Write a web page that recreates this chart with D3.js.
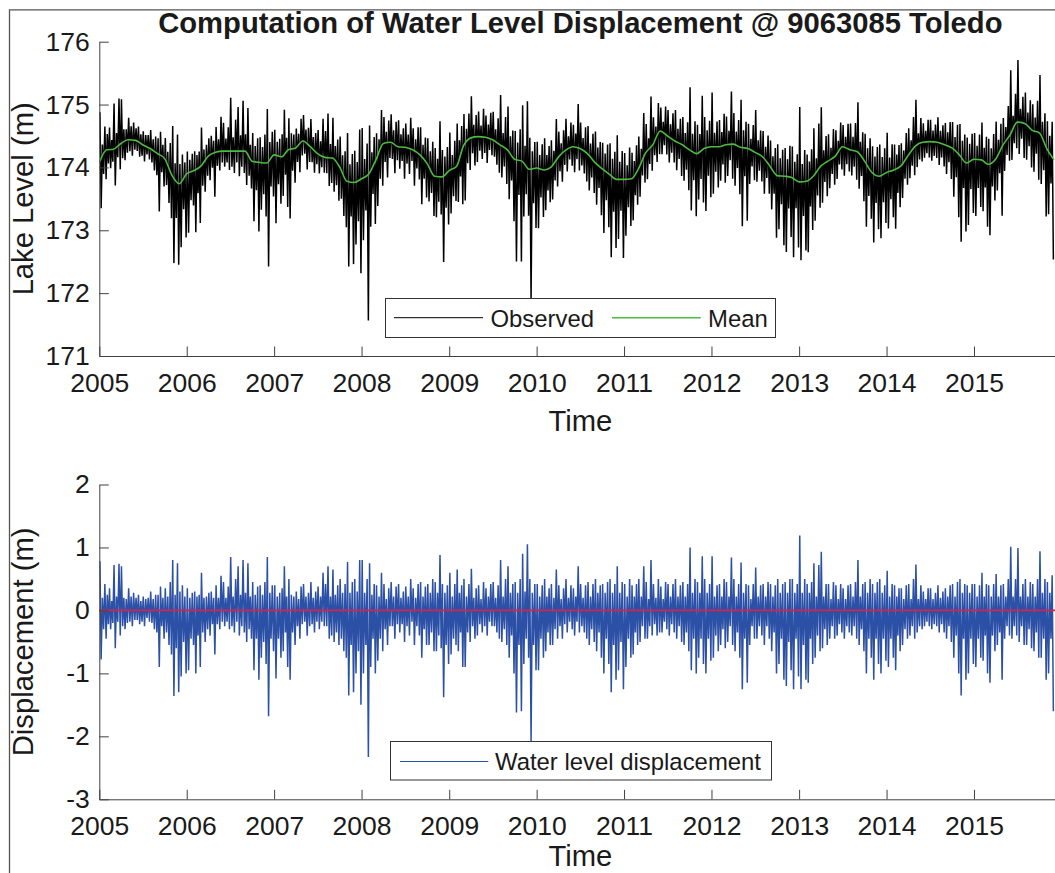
<!DOCTYPE html>
<html><head><meta charset="utf-8">
<script src="https://cdn.jsdelivr.net/npm/d3@7"></script>
<style>
body{margin:0;background:#fff;}
svg{display:block;}
text{font-family:"Liberation Sans",Arial,Helvetica,sans-serif;fill:#1a1a1a;}
</style>
</head><body>
<svg id="chart" width="1055" height="873"></svg>
<script>
// ---------------- DATA ----------------
const titleText = "Computation of Water Level Displacement @ 9063085 Toledo";
const yearTicks = [2005,2006,2007,2008,2009,2010,2011,2012,2013,2014,2015];
const levelTicks = [171,172,173,174,175,176];
const dispTicks = [-3,-2,-1,0,1,2];
const legendTop = ["Observed","Mean"];
const legendBottom = ["Water level displacement"];

// monthly mean lake level (m), value at the start of each month from Jan 2005
const meanLevel = [
 174.08,174.28,174.29,174.38,174.44,174.43,174.36,174.30,174.22,174.14,173.87,173.74,
 173.90,173.95,174.02,174.18,174.24,174.26,174.26,174.26,174.26,174.10,174.08,174.07,
 174.20,174.17,174.28,174.31,174.42,174.33,174.22,174.16,174.15,174.01,173.78,173.76,
 173.82,173.90,174.12,174.38,174.40,174.33,174.32,174.28,174.20,174.06,173.86,173.85,
 173.95,174.02,174.34,174.47,174.49,174.48,174.44,174.36,174.28,174.13,174.10,173.97,
 173.99,173.96,174.00,174.16,174.27,174.33,174.30,174.22,174.08,173.98,173.89,173.81,
 173.81,173.82,173.97,174.23,174.36,174.58,174.50,174.42,174.36,174.28,174.22,174.30,
 174.33,174.33,174.36,174.37,174.32,174.30,174.24,174.17,174.02,173.87,173.86,173.84,
 173.77,173.78,173.86,174.02,174.10,174.18,174.33,174.28,174.25,174.10,173.92,173.86,
 173.92,173.96,174.02,174.19,174.34,174.40,174.41,174.40,174.36,174.31,174.20,174.07,
 174.13,174.12,174.05,174.13,174.35,174.52,174.72,174.70,174.59,174.55,174.30,174.12];

// displacement (m), six readings per month
const disp2005 = [
 .78,-.78,.2,-.3,.42,-.45, .25,-.22,.35,-.3,.15,-.2, .72,-.6,.22,-.18,.74,-.4,
 .7,-.25,.2,-.3,.18,-.2, .35,-.18,.22,-.25,.28,-.15, .2,-.15,.25,-.22,.15,-.18,
 .22,-.25,.18,-.12,.2,-.18, .3,-.2,.18,-.3,.25,-.35, .25,-.9,.38,-.25,.2,-.45,
 .35,-.35,.22,-.55,.45,-.7, .8,-1.36,.25,-.6,.75,-1.3, .3,-1.05,.4,-.5,.22,-1.0];
const disp2006 = [
 .35,-.95,.2,-.45,.28,-.55, .3,-1.0,.22,-.4,.25,-.9, .6,-.35,.2,-.5,.22,-.3,
 .28,-.4,.3,-.22,.2,-.7, .4,-.22,.2,-.3,.55,-.18, .45,-.25,.2,-.18,.38,-.3,
 .85,-.25,.22,-.35,.5,-.18, .7,-.4,.25,-.25,.8,-.35, .28,-.5,.75,-.3,.22,-.45,
 .45,-.95,.25,-.45,.38,-1.1, .4,-.75,.25,-.5,.45,-.85, .85,-1.68,.28,-.45,.4,-.65];
const disp2007 = [
 .4,-1.08,.22,-.45,.28,-.75, .35,-.65,.7,-.35,.22,-.9, .5,-1.1,.25,-.35,.22,-.55,
 .3,-.25,.18,-.45,.38,-.22, .42,-.18,.22,-.4,.28,-.25, .45,-.22,.2,-.35,.3,-.18,
 .38,-.3,.22,-.18,.6,-.25, .42,-.25,.7,-.45,.22,-.4, .65,-.5,.25,-.35,.4,-.55,
 .5,-.45,.28,-.65,.42,-.75, .77,-1.35,.28,-.55,.45,-1.3, .5,-1.0,.3,-.65,.8,-1.5];
const disp2008 = [
 .8,-1.0,.28,-.55,.5,-2.33, .75,-.9,.25,-.45,.42,-1.0, .4,-.8,.22,-.45,.6,-.65,
 .42,-.3,.18,-.55,.35,-.25, .45,-.25,.22,-.45,.38,-.22, .42,-.35,.2,-.22,.3,-.5,
 .38,-.25,.22,-.4,.5,-.18, .35,-.55,.2,-.25,.42,-.4, .45,-.75,.22,-.3,.38,-.55,
 .42,-.55,.28,-.35,.5,-.65, .45,-.65,.28,-.4,.88,-.6, .42,-1.38,.28,-.55,.4,-.85];
const disp2009 = [
 .6,-.7,.22,-.45,.42,-.55, .65,-.65,.28,-.35,.4,-.9, .5,-.9,.22,-.35,.42,-.5,
 .66,-.25,.2,-.45,.35,-.4, .4,-.22,.18,-.35,.45,-.25, .35,-.4,.22,-.18,.42,-.25,
 .45,-.25,.2,-.35,.4,-.45, .8,-.5,.22,-.3,.5,-.55, .7,-.75,.28,-.4,.42,-1.0,
 .45,-1.62,.28,-.55,.5,-1.6, .9,-.85,.3,-.45,1.05,-.75, .5,-2.08,.28,-.55,.42,-.95];
const disp2010 = [
 .42,-.95,.22,-.45,.4,-.75, .5,-.65,.22,-.35,.35,-.55, .42,-.55,.2,-.3,.65,-.45,
 .4,-.25,.18,-.45,.35,-.22, .5,-.35,.2,-.18,.4,-.3, .35,-.4,.22,-.18,.7,-.35,
 .42,-.25,.2,-.35,.4,-.45, .45,-.55,.22,-.3,.42,-.5, .5,-.65,.28,-.35,.4,-.75,
 .42,-1.0,.28,-.45,.45,-.85, .5,-1.3,.28,-.55,.42,-1.1, .7,-.95,.28,-.5,.45,-1.25];
const disp2011 = [
 .42,-.9,.22,-.45,.5,-.75, .4,-.7,.22,-.35,.42,-.55, .5,-.5,.22,-.25,.7,-.45,
 .45,-.45,.18,-.25,.8,-.4, .42,-.22,.2,-.4,.5,-.35, .38,-.35,.18,-.18,.45,-.3,
 .42,-.4,.22,-.22,.42,-.35, .5,-.45,.22,-.25,.4,-.5, .45,-.55,.22,-.35,.42,-.65,
 1.0,-.95,.28,-.45,.5,-1.0, .45,-.75,.28,-.45,.86,-.85, .5,-1.0,.28,-.45,.42,-.8];
const disp2012 = [
 .86,-.75,.22,-.4,.4,-.65, .42,-.55,.22,-.3,.5,-.6, .45,-.5,.22,-.25,.84,-.55,
 .5,-.65,.22,-.35,.42,-.75, .76,-1.25,.28,-.45,.42,-1.15, .4,-.55,.18,-.25,.42,-.45,
 .68,-.45,.22,-.25,.4,-.4, .42,-.55,.22,-.25,.45,-.45, .42,-.65,.22,-.35,.4,-1.0,
 .5,-.85,.28,-.45,.42,-1.1, .45,-1.2,.28,-.5,.5,-.95, .5,-1.25,.28,-.45,.42,-1.05];
const disp2013 = [
 1.19,-1.25,.28,-.55,.5,-1.1, .42,-1.15,.28,-.45,.45,-.85, .75,-.75,.22,-.4,.72,-.65,
 .93,-.6,.22,-.3,.42,-.55, .42,-.45,.18,-.25,.45,-.45, .4,-.4,.18,-.22,.42,-.35,
 .35,-.45,.18,-.25,.4,-.35, .42,-.4,.22,-.25,.45,-.45, .8,-.55,.22,-.3,.42,-.65,
 .45,-1.0,.28,-.45,.5,-.75, .42,-1.1,.28,-.45,.45,-.85, .5,-1.0,.28,-.45,.4,-.8];
const disp2014 = [
 .63,-.9,.22,-.45,.42,-.75, .4,-.95,.22,-.4,.35,-.65, .35,-.55,.18,-.3,.4,-.45,
 .42,-.4,.18,-.25,.5,-.45, .73,-.35,.18,-.25,.4,-.3, .3,-.25,.18,-.18,.35,-.25,
 .35,-.3,.18,-.22,.28,-.25, .4,-.35,.2,-.22,.3,-.35, .35,-.45,.22,-.25,.4,-.5,
 .42,-.75,.22,-.4,.45,-1.0, .5,-1.35,.28,-.45,.42,-1.1, .4,-1.0,.28,-.45,.42,-.85];
const disp2015 = [
 .42,-.9,.22,-.45,.4,-.75, .6,-.8,.22,-.4,.42,-1.0, .4,-1.15,.22,-.4,.42,-.65,
 .58,-.55,.22,-.35,.4,-1.1, .42,-.45,.22,-.25,.5,-.4, 1.01,-.45,.22,-.25,.5,-.4,
 .99,-.5,.22,-.25,.42,-.55, .5,-.55,.22,-.3,.45,-.6, .42,-.65,.22,-.35,.5,-.75,
 .94,-.75,.28,-.45,.5,-1.1, .45,-1.0,.28,-.45,.56,-1.6];
const displacement = [].concat(disp2005,disp2006,disp2007,disp2008,disp2009,disp2010,
  disp2011,disp2012,disp2013,disp2014,disp2015);
const readingsPerMonth = 6;

// ---------------- LAYOUT ----------------
const svg = d3.select("#chart");
const X0 = 99.3, X1 = 1061.4;
const top1 = 41.7, bot1 = 356;
const top2 = 484.5, bot2 = 799.3;
const axisColor = "#404040";
const tickFont = 26.5, labelFont = 29.2, legendFont = 23.9;

const monthStart = m => new Date(Date.UTC(2005, m, 1));
const x = d3.scaleUtc().domain([monthStart(0), new Date(Date.UTC(2016,0,1))]).range([X0, X1]);
const yLevel = d3.scaleLinear().domain([171,176]).range([bot1, top1]);
const yDisp = d3.scaleLinear().domain([-3,2]).range([bot2, top2]);

const meanDates = meanLevel.map((_, i) => monthStart(i));
const meanAt = d3.scaleLinear().domain(meanDates.map(d => +d)).range(meanLevel);

const samples = displacement.map((v, k) => {
  const m = Math.floor(k / readingsPerMonth), j = k % readingsPerMonth;
  const a = +monthStart(m), b = +monthStart(m + 1);
  const t = new Date(a + (j + 0.5) / readingsPerMonth * (b - a));
  return {t, disp: v, obs: meanAt(+t) + v};
});

// figure frame
svg.append("path").attr("d", "M9.5,873V9.8H1055").attr("fill","none")
  .attr("stroke","#555").attr("stroke-width",1.3);

// clip paths
const defs = svg.append("defs");
defs.append("clipPath").attr("id","c1").append("rect")
  .attr("x",X0).attr("y",top1).attr("width",X1-X0).attr("height",bot1-top1);
defs.append("clipPath").attr("id","c2").append("rect")
  .attr("x",X0).attr("y",top2).attr("width",X1-X0).attr("height",bot2-top2);

// ---- top panel ----
const g1 = svg.append("g");
g1.append("g").attr("clip-path","url(#c1)").append("path")
  .datum(samples)
  .attr("fill","none").attr("stroke","#000").attr("stroke-width",1.5)
  .attr("stroke-linejoin","miter").attr("stroke-miterlimit",1.5)
  .attr("d", d3.line().x(d => x(d.t)).y(d => yLevel(d.obs)));
g1.append("g").attr("clip-path","url(#c1)").append("path")
  .datum(meanLevel)
  .attr("fill","none").attr("stroke","#4cbb3f").attr("stroke-width",1.6)
  .attr("d", d3.line().curve(d3.curveMonotoneX).x((d,i) => x(meanDates[i])).y(d => yLevel(d)));

// ---- bottom panel ----
const g2 = svg.append("g");
g2.append("g").attr("clip-path","url(#c2)").append("path")
  .datum(samples)
  .attr("fill","none").attr("stroke","#2b50a5").attr("stroke-width",1.5)
  .attr("stroke-linejoin","miter").attr("stroke-miterlimit",1.5)
  .attr("d", d3.line().x(d => x(d.t)).y(d => yDisp(d.disp)));
g2.append("line").attr("x1",X0).attr("x2",X1).attr("y1",yDisp(0)).attr("y2",yDisp(0))
  .attr("stroke","#d6224d").attr("stroke-width",1.6);

// ---- axes ----
function styleAxis(sel){
  sel.select(".domain").attr("stroke",axisColor);
  sel.selectAll(".tick line").attr("stroke",axisColor);
  sel.selectAll(".tick text").attr("fill","#1a1a1a").style("font-size",tickFont+"px")
    .attr("font-family",null);
}
const yearDates = yearTicks.map(yv => new Date(Date.UTC(yv,0,1)));
[[bot1, yLevel, levelTicks],[bot2, yDisp, dispTicks]].forEach(([by, ys, tv]) => {
  const ax = svg.append("g").attr("transform",`translate(0,${by})`)
    .call(d3.axisBottom(x).tickValues(yearDates).tickFormat(d3.utcFormat("%Y"))
      .tickSizeInner(-9.5).tickSizeOuter(0).tickPadding(17));
  styleAxis(ax);
  const ay = svg.append("g").attr("transform",`translate(${X0},0)`)
    .call(d3.axisLeft(ys).tickValues(tv).tickFormat(d => String(d))
      .tickSizeInner(-9.5).tickSizeOuter(0).tickPadding(9.5));
  styleAxis(ay);
});

// ---- labels ----
const cx = (X0 + X1) / 2;
svg.append("text").attr("x",cx).attr("y",33).attr("text-anchor","middle")
  .style("font-size",labelFont+"px").style("font-weight","bold").text(titleText);
svg.append("text").attr("x",cx).attr("y",431).attr("text-anchor","middle")
  .style("font-size",labelFont+"px").text("Time");
svg.append("text").attr("x",cx).attr("y",866).attr("text-anchor","middle")
  .style("font-size",labelFont+"px").text("Time");
svg.append("text").attr("transform",`translate(33,${(top1+bot1)/2}) rotate(-90)`)
  .attr("text-anchor","middle").style("font-size",labelFont+"px").text("Lake Level (m)");
svg.append("text").attr("transform",`translate(33,${(top2+bot2)/2}) rotate(-90)`)
  .attr("text-anchor","middle").style("font-size",labelFont+"px").text("Displacement (m)");

// ---- legends ----
function legendBox(x0, y0, w, h){
  svg.append("rect").attr("x",x0).attr("y",y0).attr("width",w).attr("height",h)
    .attr("fill","#fff").attr("stroke","#333").attr("stroke-width",1);
}
legendBox(385.5, 298.5, 390, 39);
svg.append("line").attr("x1",394).attr("x2",483).attr("y1",317.7).attr("y2",317.7)
  .attr("stroke","#000").attr("stroke-width",1);
svg.append("text").attr("x",490.5).attr("y",326.7).style("font-size",legendFont+"px").text(legendTop[0]);
svg.append("line").attr("x1",612).attr("x2",700.7).attr("y1",317.7).attr("y2",317.7)
  .attr("stroke","#4cbb3f").attr("stroke-width",1.6);
svg.append("text").attr("x",708).attr("y",326.7).style("font-size",legendFont+"px").text(legendTop[1]);

legendBox(390.5, 741.5, 381, 38.5);
svg.append("line").attr("x1",400).attr("x2",488.3).attr("y1",761.5).attr("y2",761.5)
  .attr("stroke","#2b50a5").attr("stroke-width",1.2);
svg.append("text").attr("x",495).attr("y",770).style("font-size",legendFont+"px").text(legendBottom[0]);
</script>
</body></html>
